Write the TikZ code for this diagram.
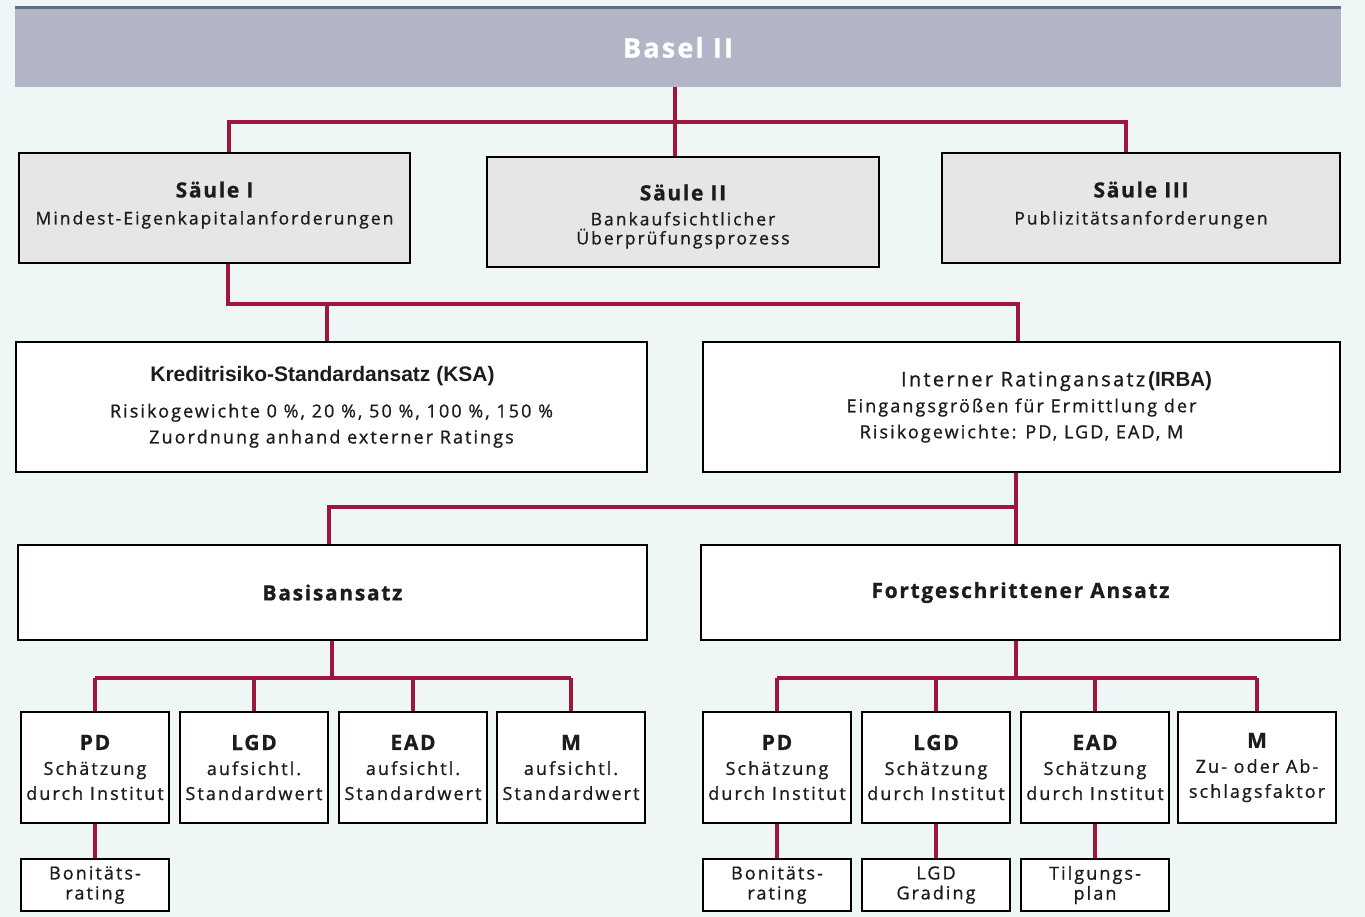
\documentclass[tikz,border=0pt]{standalone}
\usepackage{fontspec}
\setmainfont{Open Sans}[LetterSpace=11.5, FakeBold=0.9, BoldFeatures={LetterSpace=8}]
\newfontfamily\arialfont{Liberation Sans}
\usetikzlibrary{positioning}
\definecolor{bgcol}{HTML}{EEF6F6}
\definecolor{barcol}{HTML}{B4B4C7}
\definecolor{barline}{HTML}{5E6E84}
\definecolor{linecol}{HTML}{A0153C}
\definecolor{pillarfill}{HTML}{E6E6E6}
\definecolor{txt}{HTML}{1C1C1C}
\newcommand{\hd}[1]{{\fontsize{21}{27}\selectfont\bfseries #1}}
\tikzstyle{bar} = [rectangle, minimum width=1326pt, minimum height=79pt, fill=barcol,
text=white, font=\fontsize{27}{30}\selectfont\bfseries]
\tikzstyle{pillar} = [rectangle, minimum width=391pt, minimum height=110pt, draw=black,
line width=2pt, fill=pillarfill, text=txt, align=center, font=\fontsize{17.5}{27}\selectfont]
\tikzstyle{approach} = [rectangle, minimum width=631pt, minimum height=130pt, draw=black,
line width=2pt, fill=white, text=txt, align=center, font=\fontsize{18}{26}\selectfont]
\tikzstyle{variant} = [rectangle, minimum width=629pt, minimum height=95pt, draw=black,
line width=2pt, fill=white, text=txt, align=center]
\tikzstyle{param} = [rectangle, minimum width=148pt, minimum height=111pt, draw=black,
line width=2pt, fill=white, text=txt, align=center, inner sep=1pt, font=\fontsize{18}{25}\selectfont]
\tikzstyle{sub} = [rectangle, minimum width=148pt, minimum height=52pt, draw=black,
line width=2pt, fill=white, text=txt, align=center, inner sep=1pt, font=\fontsize{18}{20}\selectfont]
\tikzstyle{conn} = [linecol, line width=4pt]

\begin{document}
\begin{tikzpicture}[x=1pt, y=-1pt]
\fill[bgcol] (0,0) rectangle (1365,917);
\useasboundingbox (0,0) rectangle (1365,917);

\node (0)[bar] at (678,47.5) {Basel II};
\draw[barline, line width=3pt] (0.north west) -- (0.north east);

\node (1)[pillar] at (214.5,208) {\hd{Säule I}\\Mindest-Eigenkapitalanforderungen\\[-17pt]\mbox{}};
\node (2)[pillar, minimum width=392pt, font=\fontsize{17.5}{19}\selectfont] at (683,212)
  {\rule{0pt}{25pt}\hd{Säule II}\\[6pt]Bankaufsichtlicher\\Überprüfungsprozess};
\node (3)[pillar, minimum width=398pt] at (1141,208) {\hd{Säule III}\\Publizitätsanforderungen\\[-17pt]\mbox{}};

\node (4)[approach] at (331.5,407) {\hspace*{-18pt}{\arialfont\fontsize{21}{30}\selectfont\bfseries Kreditrisiko-Standardansatz (KSA)}\\[10pt]
  Risikogewichte 0 \%, 20 \%, 50 \%, 100 \%, 150 \%\\Zuordnung anhand externer Ratings};
\node (5)[approach, minimum width=637pt] at (1021.5,407)
  {\hspace*{70pt}{\fontsize{20}{26}\selectfont Interner Ratingansatz}\,{\arialfont\fontsize{20.5}{26}\selectfont\bfseries(IRBA)}\\
  Eingangsgrößen für Ermittlung der\\Risikogewichte: PD, LGD, EAD, M};

\node (6)[variant] at (332.5,592.5) {\hd{Basisansatz}};
\node (7)[variant, minimum width=639pt] at (1020.5,592.5) {\hd{Fortgeschrittener Ansatz}};

% Basisansatz
\node (8)[param] at (95,767.5) {\hd{PD}\\Schätzung\\durch Institut};
\node (9)[param, right=9pt of 8] {\hd{LGD}\\aufsichtl.\\Standardwert};
\node (10)[param, right=9pt of 9] {\hd{EAD}\\aufsichtl.\\Standardwert};
\node (11)[param, right=8pt of 10] {\hd{M}\\aufsichtl.\\Standardwert};

% Fortgeschrittener Ansatz
\node (12)[param] at (777,767.5) {\hd{PD}\\Schätzung\\durch Institut};
\node (13)[param, right=9pt of 12] {\hd{LGD}\\Schätzung\\durch Institut};
\node (14)[param, right=9pt of 13] {\hd{EAD}\\Schätzung\\durch Institut};
\node (15)[param, right=7pt of 14, minimum width=158pt] {\hd{M}\\Zu- oder Ab-\\schlagsfaktor};

\node (16)[sub, below=34pt of 8] {Bonitäts-\\rating};
\node (17)[sub, below=34pt of 12] {Bonitäts-\\rating};
\node (18)[sub, below=34pt of 13] {LGD\\Grading};
\node (19)[sub, below=34pt of 14] {Tilgungs-\\plan};

\coordinate (j0) at (675,122);
\coordinate (d1) at (229,122);
\coordinate (d3) at (1126,122);
\coordinate (e1) at (228,304);
\coordinate (e4) at (327,304);
\coordinate (e5) at (1018,304);
\coordinate (f6) at (329,507);
\coordinate (f7) at (1016,507);
\coordinate (g0) at (332,678);
\coordinate (h0) at (1016,678);

\draw[conn] (0.south -| j0) -- (j0 |- 2.north);
\draw[conn] (d1 |- 1.north) -- (d1) -- (d3) -- (d3 |- 3.north);
\draw[conn] (e1 |- 1.south) -- (e1) -- (e5) -- (e5 |- 5.north);
\draw[conn] (e4) -- (e4 |- 4.north);
\draw[conn] (f7 |- 5.south) -- (f7 |- 7.north);
\draw[conn] (f7) -- (f6) -- (f6 |- 6.north);
\draw[conn] (g0 |- 6.south) -- (g0);
\draw[conn] (8 |- g0) -- (11 |- g0);
\foreach \n in {8,...,11} \draw[conn] (\n.north) -- (\n |- g0);
\draw[conn] (h0 |- 7.south) -- (h0);
\draw[conn] (12 |- h0) -- (15 |- h0);
\foreach \n in {12,...,15} \draw[conn] (\n.north) -- (\n |- h0);
\draw[conn] (8) -- (16);
\draw[conn] (12) -- (17);
\draw[conn] (13) -- (18);
\draw[conn] (14) -- (19);
\end{tikzpicture}
\end{document}
